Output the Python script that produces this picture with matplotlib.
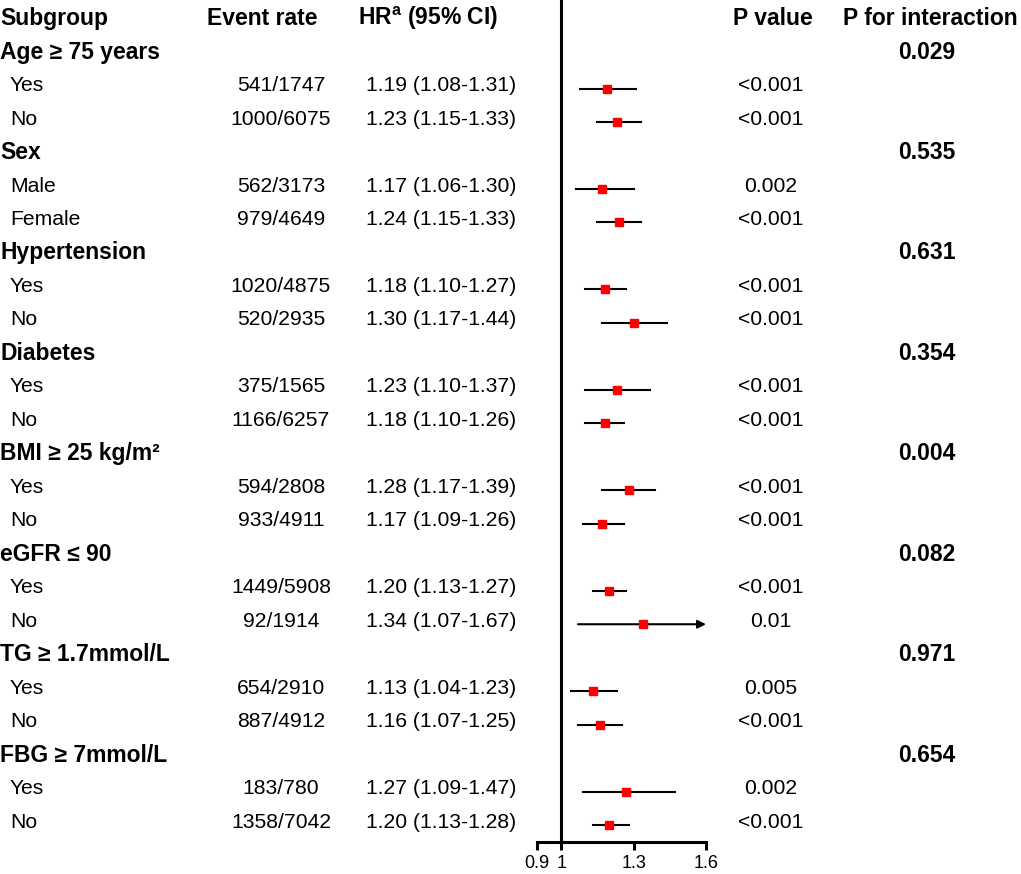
import matplotlib.pyplot as plt
import matplotlib.transforms as mtransforms

plt.rcParams['font.family'] = ['Liberation Sans', 'DejaVu Sans']
plt.rcParams['mathtext.fontset'] = 'custom'
plt.rcParams['mathtext.rm'] = 'Liberation Sans:bold'
plt.rcParams['mathtext.it'] = 'Liberation Sans:bold'
plt.rcParams['mathtext.bf'] = 'Liberation Sans:bold'

groups = ["Age \u2265 75 years", "Sex", "Hypertension", "Diabetes",
          "BMI \u2265 25 kg/m\u00b2", "eGFR \u2264 90", "TG \u2265 1.7mmol/L", "FBG \u2265 7mmol/L"]
levels = [["Yes", "No"], ["Male", "Female"], ["Yes", "No"], ["Yes", "No"],
          ["Yes", "No"], ["Yes", "No"], ["Yes", "No"], ["Yes", "No"]]
events = [["541/1747", "1000/6075"], ["562/3173", "979/4649"], ["1020/4875", "520/2935"],
          ["375/1565", "1166/6257"], ["594/2808", "933/4911"], ["1449/5908", "92/1914"],
          ["654/2910", "887/4912"], ["183/780", "1358/7042"]]
hr = [[1.19, 1.23], [1.17, 1.24], [1.18, 1.30], [1.23, 1.18],
      [1.28, 1.17], [1.20, 1.34], [1.13, 1.16], [1.27, 1.20]]
lo = [[1.08, 1.15], [1.06, 1.15], [1.10, 1.17], [1.10, 1.10],
      [1.17, 1.09], [1.13, 1.07], [1.04, 1.07], [1.09, 1.13]]
hi = [[1.31, 1.33], [1.30, 1.33], [1.27, 1.44], [1.37, 1.26],
      [1.39, 1.26], [1.27, 1.67], [1.23, 1.25], [1.47, 1.28]]
pvals = [["<0.001", "<0.001"], ["0.002", "<0.001"], ["<0.001", "<0.001"], ["<0.001", "<0.001"],
         ["<0.001", "<0.001"], ["<0.001", "0.01"], ["0.005", "<0.001"], ["0.002", "<0.001"]]
p_inter = ["0.029", "0.535", "0.631", "0.354", "0.004", "0.082", "0.971", "0.654"]
xticks = [0.9, 1, 1.3, 1.6]

W, H = 1021, 874
fig = plt.figure(figsize=(W / 100, H / 100), dpi=100)

# forest panel, pixel placement
x0, x1 = 537, 706
ybot = 842
ax = fig.add_axes([x0 / W, 1 - ybot / H, (x1 - x0) / W, ybot / H])
row_h = 33.48
top_row = 21.6
ax.set_xlim(0.9, 1.6)
ax.set_ylim((ybot - top_row) / row_h, -top_row / row_h)
for s in ['top', 'right', 'left']:
    ax.spines[s].set_visible(False)
ax.spines['bottom'].set_linewidth(2.2)
ax.set_yticks([])
ax.set_xticks(xticks)
ax.set_xticklabels(["0.9", "1", "1.3", "1.6"])
ax.tick_params(axis='x', length=6, width=2.2, labelsize=13, pad=3)
ax.axvline(1, color='black', lw=2.2)

# text sits ~3px above the marker rows
tr = mtransforms.blended_transform_factory(fig.transFigure, ax.transData)
tr = tr + mtransforms.ScaledTranslation(0, 3 / 100, fig.dpi_scale_trans)
bold = dict(fontsize=16.5, fontweight='bold', va='center', transform=tr)
norm = dict(fontsize=15.2, va='center', transform=tr)

ax.text(0 / W, 0, "Subgroup", ha='left', **bold)
ax.text(262 / W, 0, "Event rate", ha='center', **bold)
ax.text(428 / W, 0, "HR$^{\\mathrm{a}}$ (95% CI)", ha='center', **bold)
ax.text(773 / W, 0, "P value", ha='center', **bold)
ax.text(930 / W, 0, "P for interaction", ha='center', **bold)

xmax = ax.get_xlim()[1]
row = 1
for g in range(len(groups)):
    ax.text(0 / W, row, groups[g], ha='left', **bold)
    ax.text(927 / W, row, p_inter[g], ha='center', **bold)
    row += 1
    for k in range(2):
        ax.text(10 / W, row, levels[g][k], ha='left', **norm)
        ax.text(281 / W, row, events[g][k], ha='center', **norm)
        ax.text(441 / W, row, f"{hr[g][k]:.2f} ({lo[g][k]:.2f}-{hi[g][k]:.2f})", ha='center', **norm)
        ax.text(771 / W, row, pvals[g][k], ha='center', **norm)
        if hi[g][k] > xmax:
            ax.annotate("", xy=(xmax, row), xytext=(lo[g][k], row),
                        arrowprops=dict(arrowstyle='-|>', color='black', lw=1.5,
                                        mutation_scale=12, shrinkA=0, shrinkB=0),
                        annotation_clip=False)
        else:
            ax.plot([lo[g][k], hi[g][k]], [row, row], color='black', lw=1.5)
        ax.plot(hr[g][k], row, marker='s', color='#ff0000', markersize=6, zorder=3)
        row += 1

fig.savefig("out.png", dpi=100)
